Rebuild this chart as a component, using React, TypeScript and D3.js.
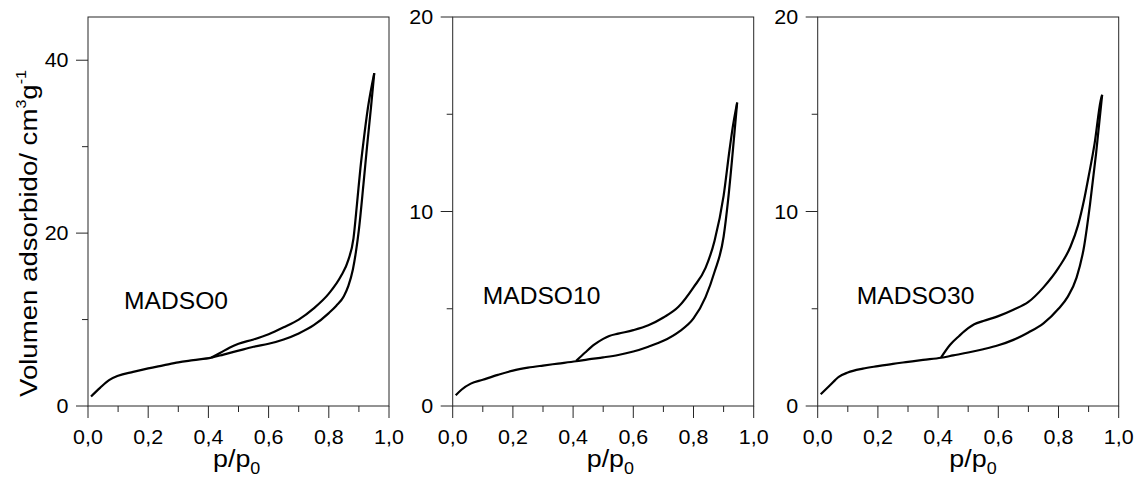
import React from "react";
import * as d3 from "d3";

type Pt = [number, number];

// ---- data ----
const sampleNames = ["MADSO0", "MADSO10", "MADSO30"];
const yMax = [45, 20, 20];
const yMajorTicks = [[0, 20, 40], [0, 10, 20], [0, 10, 20]];
const yMinorTicks = [[10, 30], [5, 15], [5, 15]];
const xMajorTicks = [0, 0.2, 0.4, 0.6, 0.8, 1.0];
const xMinorTicks = [0.1, 0.3, 0.5, 0.7, 0.9];
const xTickLabels = ["0,0", "0,2", "0,4", "0,6", "0,8", "1,0"];
const labelPos: Pt[] = [[0.12, 11.2], [0.1, 5.24], [0.13, 5.24]];

const adsMADSO0: Pt[] = [
  [0.01, 1.1], [0.04, 2.1], [0.07, 3.0], [0.1, 3.5], [0.15, 3.95], [0.2, 4.35],
  [0.25, 4.7], [0.3, 5.05], [0.35, 5.3], [0.41, 5.6], [0.45, 5.95], [0.5, 6.4],
  [0.55, 6.85], [0.6, 7.2], [0.65, 7.7], [0.7, 8.4], [0.75, 9.35], [0.8, 10.75],
  [0.825, 11.6], [0.85, 12.7], [0.865, 13.9], [0.88, 15.8], [0.89, 17.8],
  [0.9, 20.4], [0.915, 25.6], [0.927, 30.0], [0.94, 34.5], [0.951, 38.5],
];
const desMADSO0: Pt[] = [
  [0.41, 5.6], [0.44, 6.15], [0.47, 6.75], [0.5, 7.2], [0.55, 7.7], [0.6, 8.3],
  [0.65, 9.1], [0.7, 10.0], [0.75, 11.3], [0.8, 13.0], [0.84, 15.0], [0.865, 16.9],
  [0.882, 19.4], [0.894, 23.5], [0.905, 27.5], [0.915, 30.5], [0.93, 34.5], [0.951, 38.5],
];
const adsMADSO10: Pt[] = [
  [0.01, 0.55], [0.03, 0.85], [0.06, 1.15], [0.1, 1.35], [0.15, 1.6], [0.2, 1.82],
  [0.25, 1.97], [0.3, 2.08], [0.35, 2.18], [0.41, 2.3], [0.45, 2.4], [0.5, 2.5],
  [0.55, 2.62], [0.6, 2.8], [0.65, 3.05], [0.7, 3.35], [0.75, 3.8], [0.8, 4.5],
  [0.84, 5.6], [0.87, 6.9], [0.9, 8.7], [0.915, 10.6], [0.93, 13.0], [0.945, 15.6],
];
const desMADSO10: Pt[] = [
  [0.41, 2.32], [0.44, 2.75], [0.47, 3.15], [0.5, 3.45], [0.52, 3.6], [0.55, 3.72],
  [0.6, 3.9], [0.65, 4.15], [0.7, 4.55], [0.75, 5.1], [0.8, 6.1], [0.84, 7.1],
  [0.87, 8.5], [0.9, 10.8], [0.92, 13.2], [0.93, 14.3], [0.945, 15.6],
];
const adsMADSO30: Pt[] = [
  [0.01, 0.6], [0.04, 1.05], [0.07, 1.5], [0.1, 1.72], [0.15, 1.92], [0.2, 2.05],
  [0.25, 2.17], [0.3, 2.27], [0.35, 2.37], [0.41, 2.48], [0.45, 2.6], [0.5, 2.75],
  [0.55, 2.92], [0.6, 3.12], [0.65, 3.4], [0.7, 3.78], [0.75, 4.25], [0.8, 5.0],
  [0.83, 5.6], [0.86, 6.6], [0.885, 8.2], [0.905, 10.4], [0.925, 13.0], [0.945, 16.0],
];
const desMADSO30: Pt[] = [
  [0.41, 2.5], [0.44, 3.15], [0.47, 3.6], [0.5, 4.0], [0.52, 4.2], [0.55, 4.37],
  [0.6, 4.62], [0.65, 4.95], [0.7, 5.35], [0.75, 6.1], [0.8, 7.1], [0.84, 8.2],
  [0.865, 9.3], [0.885, 10.6], [0.9, 11.8], [0.92, 13.5], [0.94, 15.7], [0.945, 16.0],
];
const adsorption = [adsMADSO0, adsMADSO10, adsMADSO30];
const desorption = [desMADSO0, desMADSO10, desMADSO30];

// ---- layout ----
const W = 1136;
const H = 479;
const panelLeft = [88, 452.7, 817.7];
const panelWidth = 301;
const top = 17;
const bottom = 406;
const titleX = [213, 586.7, 949.3];
const FONT = "'Liberation Sans', Arial, Helvetica, sans-serif";
const AX = "#262626";

function Panel({ i }: { i: number }) {
  const x = d3.scaleLinear().domain([0, 1]).range([panelLeft[i], panelLeft[i] + panelWidth]);
  const y = d3.scaleLinear().domain([0, yMax[i]]).range([bottom, top]);
  const line = d3
    .line<Pt>()
    .x((d) => x(d[0]))
    .y((d) => y(d[1]))
    .curve(d3.curveMonotoneX);
  const x0 = x(0);
  return (
    <g>
      <rect x={x0} y={top} width={panelWidth} height={bottom - top} fill="none" stroke={AX} strokeWidth={1} />
      {xMajorTicks.map((t) => (
        <line key={"xM" + t} x1={x(t)} x2={x(t)} y1={bottom} y2={bottom + 12} stroke={AX} />
      ))}
      {xMinorTicks.map((t) => (
        <line key={"xm" + t} x1={x(t)} x2={x(t)} y1={bottom} y2={bottom + 6} stroke={AX} />
      ))}
      {yMajorTicks[i].map((t) => (
        <line key={"yM" + t} x1={x0 - 12} x2={x0} y1={y(t)} y2={y(t)} stroke={AX} />
      ))}
      {yMinorTicks[i].map((t) => (
        <line key={"ym" + t} x1={x0 - 6} x2={x0} y1={y(t)} y2={y(t)} stroke={AX} />
      ))}
      {xMajorTicks.map((t, k) => (
        <text
          key={"xl" + t}
          transform={`translate(${x(t)},444) scale(1.1,1)`}
          textAnchor="middle"
          fontSize={19.5}
          fontFamily={FONT}
          fill="#000"
        >
          {xTickLabels[k]}
        </text>
      ))}
      {yMajorTicks[i].map((t) => (
        <text
          key={"yl" + t}
          transform={`translate(${x0 - 19.5},${y(t) + 7}) scale(1.1,1)`}
          textAnchor="end"
          fontSize={19.5}
          fontFamily={FONT}
          fill="#000"
        >
          {String(t)}
        </text>
      ))}
      <path d={line(adsorption[i]) || ""} fill="none" stroke="#000" strokeWidth={2.2} strokeLinejoin="round" />
      <path d={line(desorption[i]) || ""} fill="none" stroke="#000" strokeWidth={2.2} strokeLinejoin="round" />
      <text
        transform={`translate(${x(labelPos[i][0])},${y(labelPos[i][1])}) scale(1.07,1)`}
        fontSize={23}
        fontFamily={FONT}
        fill="#000"
      >
        {sampleNames[i]}
      </text>
      <text
        transform={`translate(${titleX[i]},466.7) scale(1.12,1)`}
        fontSize={24}
        fontFamily={FONT}
        fill="#000"
      >
        p/p
        <tspan fontSize={16} dy={7}>0</tspan>
      </text>
    </g>
  );
}

export default function App() {
  return (
    <svg
      width={W}
      height={H}
      viewBox={`0 0 ${W} ${H}`}
      style={{ position: "absolute", left: 0, top: 0, background: "#fff" }}
    >
      <rect x={0} y={0} width={W} height={H} fill="#fff" />
      {[0, 1, 2].map((i) => (
        <Panel key={i} i={i} />
      ))}
      <text
        transform="translate(37,397) rotate(-90) scale(1.15,1)"
        fontSize={24}
        fontFamily={FONT}
        fill="#000"
      >
        Volumen adsorbido/ cm
        <tspan fontSize={14} dy={-11}>3</tspan>
        <tspan fontSize={24} dy={11}>g</tspan>
        <tspan fontSize={14} dy={-11}>-1</tspan>
      </text>
    </svg>
  );
}
